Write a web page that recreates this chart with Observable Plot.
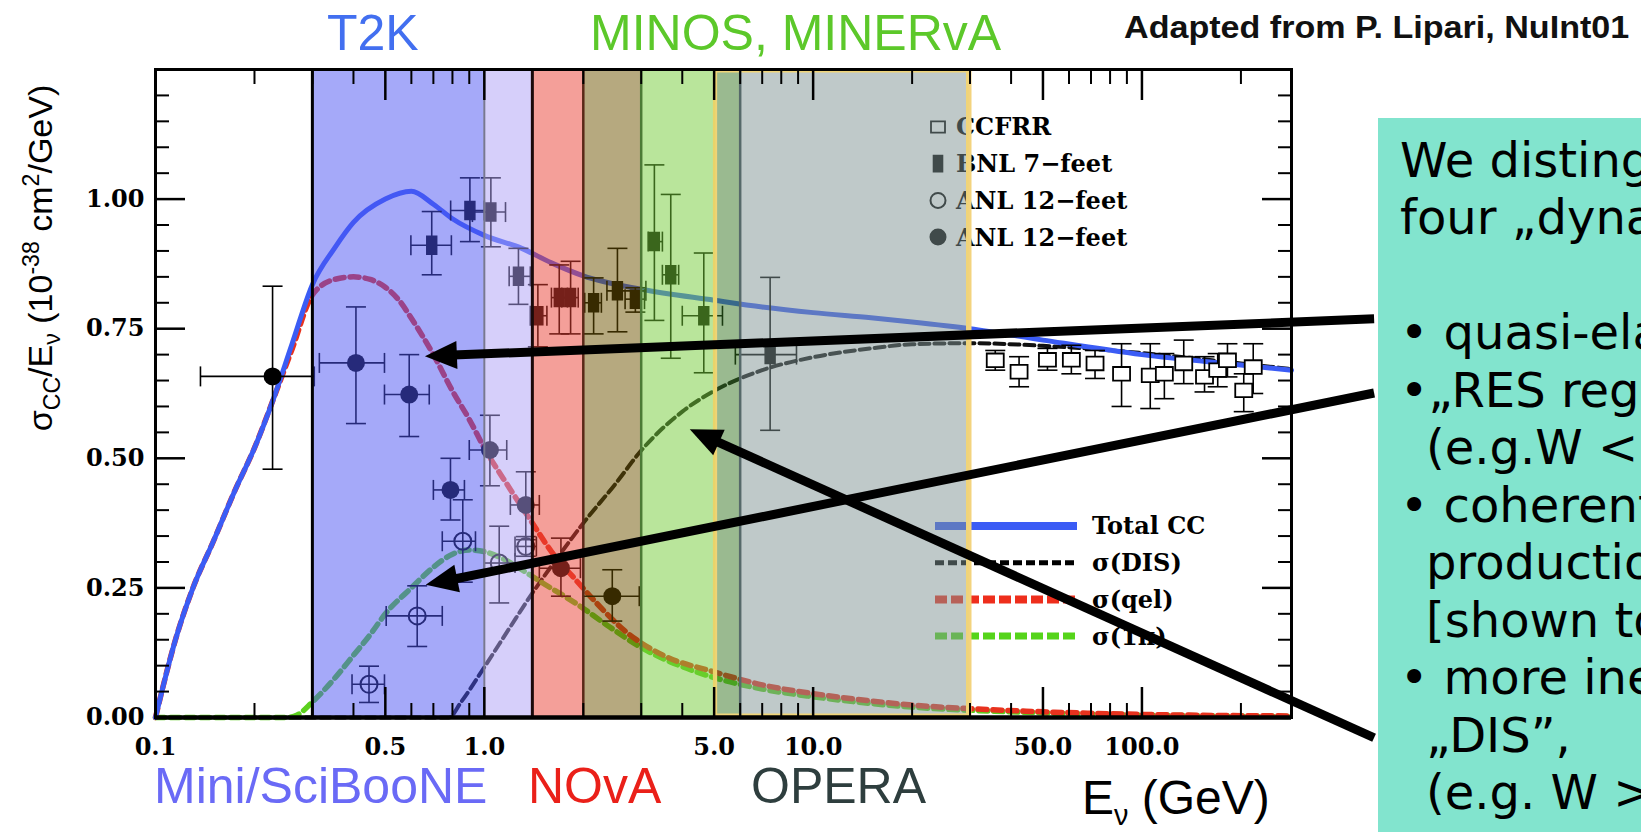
<!DOCTYPE html>
<html>
<head>
<meta charset="utf-8">
<script src="https://cdn.jsdelivr.net/npm/d3@7"></script>
<script src="https://cdn.jsdelivr.net/npm/@observablehq/plot@0.6"></script>
<style>
  html, body { margin: 0; padding: 0; background: #fff; overflow: hidden; }
  #page { position: relative; width: 1641px; height: 832px; overflow: hidden; font-family: "Liberation Sans", Arial, sans-serif; }
  #chart { position: absolute; left: 0; top: 0; }
  .lbl { position: absolute; white-space: nowrap; line-height: 1; }
  #ylab { position: absolute; left: 42px; top: 258px; transform: translate(-50%, -50%) rotate(-90deg); white-space: nowrap; font-size: 34px; line-height: 1; color: #000; }
  #ylab sub, #ylab sup { font-size: 0.68em; }
  #note { position: absolute; left: 1378px; top: 118px; right: 0; bottom: 0; background: #82e4ce; overflow: hidden;
          font-family: "DejaVu Sans", sans-serif; font-size: 48px; line-height: 57.5px; padding: 13.7px 0 0 22px; box-sizing: border-box; color: #000; white-space: nowrap; }
  #note .ind { padding-left: 26px; }
</style>
</head>
<body>
<div id="page">
  <div id="chart"></div>
  <div class="lbl" style="left:327px;top:7.7px;font-size:50px;color:#426ff0;">T2K</div>
  <div class="lbl" style="left:590px;top:7.7px;font-size:50px;color:#5cc82a;">MINOS, MINERvA</div>
  <div class="lbl" style="left:1124px;top:11.8px;font-size:31px;font-weight:bold;color:#111;transform-origin:left center;transform:scaleX(1.1);">Adapted from P. Lipari, NuInt01</div>
  <div class="lbl" style="left:154px;top:760.7px;font-size:50px;color:#6a6af6;">Mini/SciBooNE</div>
  <div class="lbl" style="left:528px;top:760.7px;font-size:50px;color:#ea2019;">NOvA</div>
  <div class="lbl" style="left:751px;top:760.7px;font-size:50px;color:#2e3e3e;">OPERA</div>
  <div class="lbl" style="left:1082px;top:774px;font-size:48px;color:#000;">E<sub style="font-size:0.6em;">ν</sub> (GeV)</div>
  <div id="ylab">σ<sub>CC</sub>/E<sub>ν</sub> (10<sup>-38</sup> cm<sup>2</sup>/GeV)</div>
  <div id="note">
    <div>We disting</div>
    <div>four „dyna</div>
    <div>&nbsp;</div>
    <div>• quasi-ela</div>
    <div>•„RES regi</div>
    <div class="ind">(e.g.W &lt;</div>
    <div>• coherent</div>
    <div class="ind">productio</div>
    <div class="ind">[shown to</div>
    <div>• more ine</div>
    <div class="ind">„DIS”,</div>
    <div class="ind">(e.g. W &gt;</div>
  </div>
</div>
<script>
// ---------- axes ----------
const xDomain = [0.1, 285];
const yDomain = [0, 1.25];
const xMajorTicks = [0.5, 1, 5, 10, 50, 100];
const xMinorTicks = [0.2, 0.3, 0.4, 0.6, 0.7, 0.8, 0.9, 2, 3, 4, 6, 7, 8, 9, 20, 30, 40, 60, 70, 80, 90, 200];
const xTickLabels = [0.1, 0.5, 1, 5, 10, 50, 100];
const yMajorTicks = [0, 0.25, 0.5, 0.75, 1.0];
const yMinorTicks = [0.05, 0.1, 0.15, 0.2, 0.3, 0.35, 0.4, 0.45, 0.55, 0.6, 0.65, 0.7, 0.8, 0.85, 0.9, 0.95, 1.05, 1.1, 1.15, 1.2];

// ---------- theory curves [E (GeV), sigma/E] ----------
const totalCC = [[0.1,0],[0.115,0.15],[0.13,0.25],[0.15,0.34],[0.175,0.44],[0.2,0.52],[0.227,0.61],[0.26,0.72],[0.3,0.835],
  [0.35,0.905],[0.4,0.955],[0.5,1.0],[0.6,1.015],[0.7,0.99],[0.8,0.962],[1.0,0.93],[1.3,0.905],[1.6,0.877],[2,0.852],
  [3,0.826],[5,0.805],[7,0.792],[10,0.781],[15,0.771],[20,0.763],[30,0.75],[50,0.728],[100,0.70],[200,0.68],[285,0.67]];
const sigmaQEL = [[0.1,0],[0.115,0.15],[0.13,0.25],[0.15,0.34],[0.175,0.44],[0.2,0.52],[0.227,0.61],[0.26,0.71],[0.3,0.815],[0.35,0.845],[0.4,0.85],[0.45,0.845],[0.5,0.83],
  [0.55,0.805],[0.6,0.77],[0.7,0.70],[0.8,0.63],[0.9,0.575],[1.0,0.52],[1.2,0.44],[1.4,0.375],[1.6,0.32],[1.9,0.265],
  [2.2,0.22],[2.7,0.165],[3.5,0.12],[5,0.088],[7,0.063],[10,0.046],[15,0.032],[20,0.024],[30,0.017],[50,0.011],[100,0.006],[285,0.003]];
const sigmaRES = [[0.1,0],[0.25,0],[0.27,0.005],[0.3,0.03],[0.35,0.075],[0.4,0.12],[0.45,0.16],[0.5,0.2],[0.6,0.25],
  [0.7,0.29],[0.8,0.315],[0.9,0.323],[1.0,0.32],[1.15,0.305],[1.3,0.285],[1.5,0.26],[1.9,0.22],[2.4,0.175],[3,0.135],
  [4,0.098],[5,0.077],[7,0.055],[10,0.04],[15,0.027],[20,0.02],[30,0.014],[50,0.009],[100,0.005],[285,0.002]];
const sigmaDIS = [[0.1,0],[0.78,0],[0.85,0.03],[1.0,0.097],[1.2,0.175],[1.4,0.24],[1.7,0.315],[2,0.375],[2.5,0.45],
  [3,0.515],[4,0.59],[5,0.63],[7,0.67],[10,0.695],[15,0.712],[20,0.72],[30,0.722],[50,0.717],[100,0.703],[200,0.683],[285,0.672]];

// ---------- measurements [E, value, E low, E high, value low, value high] ----------
const anlFilled = [[0.227,0.658,0.137,0.304,0.479,0.832],[0.407,0.684,0.315,0.497,0.567,0.792],[0.591,0.623,0.497,0.68,0.542,0.70],
  [0.789,0.439,0.70,0.87,0.381,0.50],[1.04,0.516,0.90,1.17,0.447,0.583],[1.337,0.41,1.2,1.47,0.343,0.474],
  [1.71,0.288,1.47,1.96,0.234,0.346],[2.45,0.234,2.0,2.96,0.186,0.285]];
const anlOpen = [[0.446,0.064,0.396,0.497,0.029,0.099],[0.625,0.196,0.503,0.745,0.137,0.254],[0.86,0.34,0.745,0.94,0.261,0.42],
  [1.11,0.298,1.0,1.24,0.221,0.369],[1.337,0.33,1.24,1.44,0.311,0.349]];
const bnl = [[0.692,0.911,0.598,0.794,0.854,0.976],[0.904,0.978,0.79,1.0,0.918,1.041],[1.047,0.975,0.92,1.16,0.908,1.041],
  [1.27,0.851,1.19,1.38,0.797,0.905],[1.455,0.775,1.38,1.55,0.715,0.835],[1.69,0.81,1.6,1.79,0.74,0.873],
  [1.83,0.81,1.72,1.93,0.74,0.88],[2.15,0.80,2.02,2.27,0.74,0.848],[2.54,0.823,2.36,3.1,0.744,0.905],
  [2.88,0.807,2.68,3.07,0.782,0.829],[3.29,0.918,3.15,3.48,0.766,1.066],[3.69,0.854,3.48,3.9,0.693,1.009],
  [4.65,0.775,4.0,5.3,0.665,0.896],[7.4,0.70,5.8,8.9,0.554,0.849]];
const ccfrr = [[35.8,0.689,null,null,0.67,0.708],[42.3,0.667,null,null,0.638,0.696],[51.6,0.690,null,null,0.67,0.712],
  [61.0,0.690,null,null,0.663,0.718],[72.0,0.683,null,null,0.654,0.708],[86.7,0.663,null,null,0.60,0.721],
  [106,0.660,null,null,0.596,0.721],[117,0.663,null,null,0.615,0.702],[134,0.683,null,null,0.644,0.728],
  [155,0.657,null,null,0.628,0.696],[170,0.670,null,null,0.638,0.702],[182,0.689,null,null,0.657,0.721],
  [204,0.631,null,null,0.59,0.663],[218,0.676,null,null,0.625,0.721]];

// ---------- experiment energy bands (GeV) ----------
const bandEdges = [0.3, 1.0, 1.4, 2.0, 3.0, 5.0, 6.0, 30];
const bandFills = ["#4b53f3", "#ad9ff5", "#e93f33", "#6d5300", "#73cb37", "#357521", "#7f9393"];
const edgeColors = ["#000000", "#787890", "#1a0a0a", "#5a2818", "#4c7a36", "#e8d46a", "#56696a", "#f3d37e"];
const edgeWidths = [3, 2, 3, 2.5, 2.5, 2.5, 2.5, 3];

// ---------- legends ----------
const markerLegend = ["CCFRR", "BNL 7−feet", "ANL 12−feet", "ANL 12−feet"];
const curveLegend = ["Total CC", "σ(DIS)", "σ(qel)", "σ(1π)"];

// ---------- annotation arrows (data space: from text box to curve) ----------
const pointers = [
  {fromE: 510, fromV: 0.768, toE: 0.662, toV: 0.696},
  {fromE: 510, fromV: 0.625, toE: 0.666, toV: 0.255},
  {fromE: 510, fromV: -0.04, toE: 4.23, toV: 0.555}
];

// ---------- helpers ----------
const toPts = a => a.map(([e, v]) => ({e, v}));
const toRows = a => a.map(([e, v, elo, ehi, vlo, vhi]) => ({e, v, elo, ehi, vlo, vhi}));
const bands = bandEdges.slice(0, -1).map((lo, i) => ({lo, hi: bandEdges[i + 1], fill: bandFills[i]}));

const capH = {draw(ctx, size) { const r = Math.sqrt(size / Math.PI); ctx.moveTo(-r, 0); ctx.lineTo(r, 0); }};
const capV = {draw(ctx, size) { const r = Math.sqrt(size / Math.PI); ctx.moveTo(0, -r); ctx.lineTo(0, r); }};
const tallRect = {draw(ctx, size) { const r = Math.sqrt(size / Math.PI); ctx.rect(-r * 0.55, -r, r * 1.1, r * 2); }};
const wideRect = {draw(ctx, size) { const r = Math.sqrt(size / Math.PI); ctx.rect(-r, -r * 0.8, r * 2, r * 1.6); }};

function errorMarks(rows, capR) {
  const withX = rows.filter(d => d.elo != null);
  const st = {stroke: "black", strokeWidth: 1.6};
  return [
    Plot.link(rows, {x1: "e", x2: "e", y1: "vlo", y2: "vhi", ...st}),
    Plot.link(withX, {x1: "elo", x2: "ehi", y1: "v", y2: "v", ...st}),
    Plot.dot(rows, {x: "e", y: "vlo", symbol: capH, r: capR, fill: "none", ...st}),
    Plot.dot(rows, {x: "e", y: "vhi", symbol: capH, r: capR, fill: "none", ...st}),
    Plot.dot(withX, {x: "elo", y: "v", symbol: capV, r: capR, fill: "none", ...st}),
    Plot.dot(withX, {x: "ehi", y: "v", symbol: capV, r: capR, fill: "none", ...st})
  ];
}

const A = toRows(anlFilled), O = toRows(anlOpen), B = toRows(bnl), C = toRows(ccfrr);

const legendMark = (index, scales, values, dim) => {
  const g = d3.create("svg:g").attr("text-anchor", "start");
  const fr = dim.width - dim.marginRight, ft = dim.marginTop;
  const sym = [wideRect, tallRect];
  markerLegend.forEach((t, i) => {
    const cy = ft + 58 + i * 36.7, cx = fr - 353;
    if (i < 2) {
      g.append("path").attr("transform", `translate(${cx},${cy})`)
        .attr("d", d3.symbol(sym[i], Math.PI * (i === 0 ? 7 * 7 : 8 * 8))())
        .attr("fill", i === 0 ? "white" : "black").attr("stroke", "black").attr("stroke-width", 1.8);
    } else {
      g.append("circle").attr("cx", cx).attr("cy", cy).attr("r", 7.5)
        .attr("fill", i === 3 ? "black" : "white").attr("stroke", "black").attr("stroke-width", 2);
    }
    g.append("text").attr("x", fr - 335).attr("y", cy).attr("dy", "0.35em").attr("text-anchor", "start")
      .attr("font-family", "DejaVu Serif").attr("font-weight", "bold").attr("font-size", 24).attr("fill", "black").text(t);
  });
  const lineStyles = [
    {stroke: "#3b5cf5", w: 8, dash: null},
    {stroke: "#000", w: 5, dash: "9,4"},
    {stroke: "#ee2e1c", w: 8, dash: "12,4"},
    {stroke: "#55d41a", w: 7, dash: "12,4"}
  ];
  curveLegend.forEach((t, i) => {
    const cy = ft + 457 + i * 36.7, s = lineStyles[i];
    g.append("line").attr("x1", fr - 356).attr("x2", fr - 214).attr("y1", cy).attr("y2", cy)
      .attr("stroke", s.stroke).attr("stroke-width", s.w).attr("stroke-dasharray", s.dash);
    g.append("text").attr("x", fr - 199).attr("y", cy).attr("dy", "0.35em").attr("text-anchor", "start")
      .attr("font-family", "DejaVu Serif").attr("font-weight", "bold").attr("font-size", 24).attr("fill", "black").text(t);
  });
  return g.node();
};

const arrowMark = (index, scales) => {
  const g = d3.create("svg:g");
  for (const p of pointers) {
    const x1 = scales.x(p.fromE), y1 = scales.y(p.fromV), x2 = scales.x(p.toE), y2 = scales.y(p.toV);
    const dx = x2 - x1, dy = y2 - y1, len = Math.hypot(dx, dy), ux = dx / len, uy = dy / len;
    const L = 32, W = 14;
    const bx = x2 - L * ux, by = y2 - L * uy;
    g.append("line").attr("x1", x1).attr("y1", y1).attr("x2", bx + 4 * ux).attr("y2", by + 4 * uy)
      .attr("stroke", "black").attr("stroke-width", 9);
    g.append("path").attr("d", `M${x2},${y2}L${bx - W * uy},${by + W * ux}L${bx + W * uy},${by - W * ux}Z`).attr("fill", "black");
  }
  return g.node();
};

const serif = {fontFamily: "DejaVu Serif", fontWeight: "bold", fontSize: 24, fill: "black"};
const blank = () => "";

const chart = Plot.plot({
  width: 1641, height: 832,
  marginLeft: 155, marginRight: 350, marginTop: 69, marginBottom: 115,
  x: {type: "log", domain: xDomain},
  y: {domain: yDomain},
  color: {type: "identity"},
  style: {fontFamily: "DejaVu Serif", background: "transparent", overflow: "visible"},
  marks: [
    // theory curves
    Plot.line(toPts(sigmaDIS), {x: "e", y: "v", stroke: "#111", strokeWidth: 4, strokeDasharray: "10,5", curve: "monotone-x"}),
    Plot.line(toPts(sigmaRES), {x: "e", y: "v", stroke: "#5cd01e", strokeWidth: 5.5, strokeDasharray: "9,6", strokeLinecap: "round", curve: "monotone-x"}),
    Plot.line(toPts(sigmaQEL), {x: "e", y: "v", stroke: "#e8321e", strokeWidth: 5.5, strokeDasharray: "9,6", strokeLinecap: "round", curve: "monotone-x"}),
    Plot.line(toPts(totalCC), {x: "e", y: "v", stroke: "#3b5cf5", strokeWidth: 5, curve: "monotone-x"}),
    // measurements
    errorMarks(C, 10),
    errorMarks(B, 10),
    errorMarks(O, 10),
    errorMarks(A, 10),
    Plot.dot(C, {x: "e", y: "v", symbol: wideRect, r: 8.5, fill: "white", stroke: "black", strokeWidth: 1.8}),
    Plot.dot(B, {x: "e", y: "v", symbol: tallRect, r: 9, fill: "black", stroke: "black"}),
    Plot.dot(O, {x: "e", y: "v", r: 8.5, fill: "none", stroke: "black", strokeWidth: 2}),
    Plot.dot(A, {x: "e", y: "v", r: 9, fill: "black"}),
    legendMark,
    // experiment bands (translucent overlay)
    Plot.rect(bands, {x1: "lo", x2: "hi", fill: "fill", fillOpacity: 0.5}),
    Plot.rect([{lo: 5, hi: 30}], {x1: "lo", x2: "hi", fill: "none", stroke: "#f0d478", strokeWidth: 3, inset: 2}),
    Plot.ruleX(bandEdges, {x: d => d, stroke: (d, i) => edgeColors[i], strokeWidth: (d, i) => edgeWidths[i]}),
    // frame and ticks
    Plot.frame({stroke: "black", strokeWidth: 3}),
    Plot.ruleY([0], {stroke: "black", strokeWidth: 4.5}),
    Plot.axisX(xMajorTicks, {anchor: "bottom", tickSize: -30, strokeWidth: 2.5, tickFormat: blank, label: null}),
    Plot.axisX(xMinorTicks, {anchor: "bottom", tickSize: -14, strokeWidth: 2, tickFormat: blank, label: null}),
    Plot.axisX(xMajorTicks, {anchor: "top", tickSize: -30, strokeWidth: 2.5, tickFormat: blank, label: null}),
    Plot.axisX(xMinorTicks, {anchor: "top", tickSize: -14, strokeWidth: 2, tickFormat: blank, label: null}),
    Plot.axisY(yMajorTicks, {anchor: "left", tickSize: -30, strokeWidth: 2.5, tickFormat: blank, label: null}),
    Plot.axisY(yMinorTicks, {anchor: "left", tickSize: -14, strokeWidth: 2, tickFormat: blank, label: null}),
    Plot.axisY(yMajorTicks, {anchor: "right", tickSize: -30, strokeWidth: 2.5, tickFormat: blank, label: null}),
    Plot.axisY(yMinorTicks, {anchor: "right", tickSize: -14, strokeWidth: 2, tickFormat: blank, label: null}),
    Plot.text(xTickLabels, {x: d => d, frameAnchor: "bottom", dy: 20, lineAnchor: "top", text: d => d.toFixed(1), ...serif}),
    Plot.axisY(yMajorTicks, {anchor: "left", tickSize: 0, tickPadding: 11, tickFormat: d => d.toFixed(2), label: null, ...serif}),
    // annotation arrows
    arrowMark
  ]
});
document.getElementById("chart").appendChild(chart);
</script>
</body>
</html>
